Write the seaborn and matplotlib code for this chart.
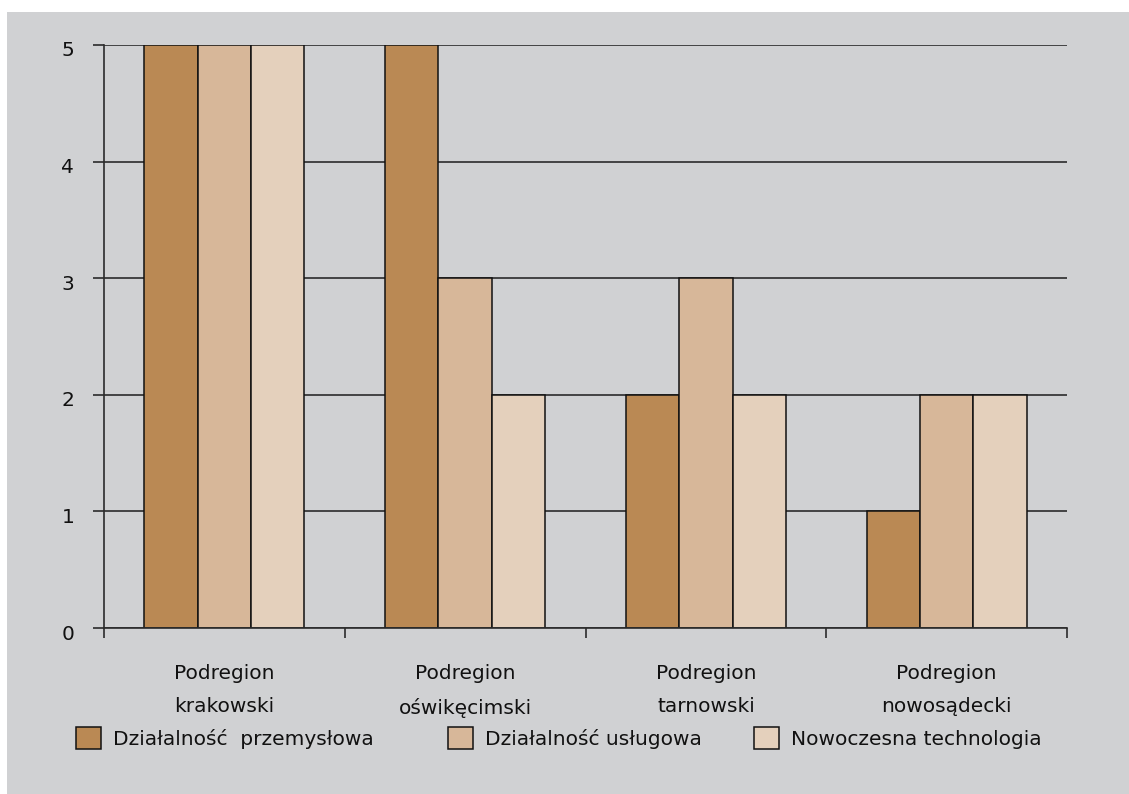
import matplotlib
matplotlib.use("Agg")
import matplotlib.pyplot as plt
import matplotlib.patches as mpatches
import matplotlib.transforms as mtransforms
import pandas as pd
import seaborn as sns

# data
regions = ["Podregion\nkrakowski", "Podregion\noświkęcimski", "Podregion\ntarnowski", "Podregion\nnowosądecki"]
series = ["Działalność  przemysłowa", "Działalność usługowa", "Nowoczesna technologia"]
przemyslowa = [5, 5, 2, 1]
uslugowa = [5, 3, 3, 2]
technologia = [5, 2, 2, 2]
y_ticks = [0, 1, 2, 3, 4, 5]

colors = ["#BA8954", "#D7B799", "#E4D0BC"]
bg = "#D0D1D3"

df = pd.DataFrame({
    "region": regions * 3,
    "series": [series[0]] * 4 + [series[1]] * 4 + [series[2]] * 4,
    "value": przemyslowa + uslugowa + technologia,
})

sns.set_theme(style="white")
plt.rcParams["font.family"] = ["DejaVu Sans"]

W, H = 1129, 794
fs = 14.5
fig = plt.figure(figsize=(W / 100, H / 100), dpi=100, facecolor="white")
fig.patches.append(mpatches.Rectangle((7 / W, 0), 1 - 7 / W, 1 - 12 / H,
                                      transform=fig.transFigure, facecolor=bg,
                                      edgecolor="none", zorder=-10))
ax = fig.add_axes([104 / W, 1 - 628 / H, (1067 - 104) / W, (628 - 45) / H])
ax.set_facecolor(bg)

sns.barplot(data=df, x="region", y="value", hue="series", palette=colors,
            saturation=1, width=0.665, edgecolor="#111111", linewidth=1.1,
            ax=ax, zorder=3)

ax.set_xlim(-0.5, 3.5)
ax.set_ylim(0, 5)
ax.set_yticks(y_ticks)
ax.set_yticklabels([str(v) for v in y_ticks], fontsize=fs, color="#111111")
for v in y_ticks:
    ax.axhline(v, color="#2b2b2b", linewidth=1.2, zorder=1)

ax.set_xticks(range(len(regions)))
ax.set_xticklabels(regions, fontsize=fs, color="#111111", linespacing=1.95)
ax.tick_params(axis="x", which="major", length=0, pad=26)
ax.set_xticks([-0.5, 0.5, 1.5, 2.5, 3.5], minor=True)
ax.tick_params(axis="x", which="minor", length=7, width=1.2, color="#2b2b2b",
               direction="out", bottom=True)
ax.tick_params(axis="y", length=8, width=1.2, color="#2b2b2b", pad=18, left=True)
shift_down = mtransforms.ScaledTranslation(0, -4 / 100, fig.dpi_scale_trans)
for lbl in ax.get_yticklabels():
    lbl.set_horizontalalignment("center")
    lbl.set_transform(lbl.get_transform() + shift_down)

for s in ["top", "right"]:
    ax.spines[s].set_visible(False)
for s in ["left", "bottom"]:
    ax.spines[s].set_color("#2b2b2b")
    ax.spines[s].set_linewidth(1.2)
    ax.spines[s].set_zorder(4)

ax.set_xlabel("")
ax.set_ylabel("")

handles, labels = ax.get_legend_handles_labels()
ax.get_legend().remove()
# one legend entry per box, placed where the reference puts each swatch
legend_x = [76, 448, 754]
for h, lab, x in zip(handles, labels, legend_x):
    fig.legend([h], [lab], loc="center left", bbox_to_anchor=(x / W, 1 - 738 / H),
               frameon=False, fontsize=fs, handlelength=1.25, handleheight=1.25,
               handletextpad=0.6, borderpad=0, borderaxespad=0,
               labelcolor="#111111")

fig.savefig("out.png", dpi=100, facecolor="white")
